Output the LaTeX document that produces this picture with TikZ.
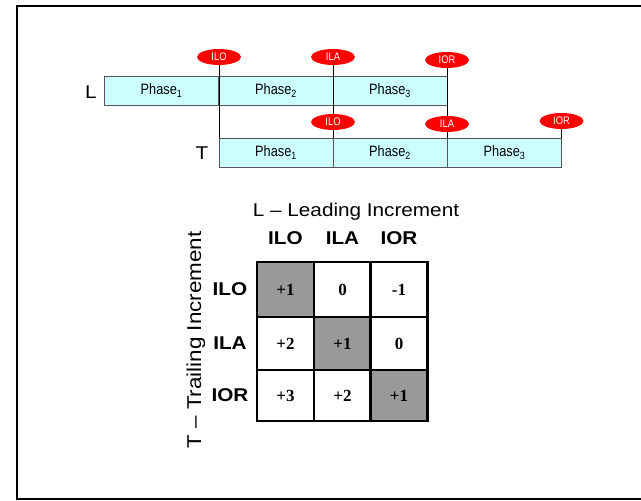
\documentclass[tikz,border=0pt]{standalone}
\usepackage{fontspec}
\setmainfont{Liberation Sans}
\newfontfamily\widefont[FakeStretch=1.12]{Liberation Sans}
\newfontfamily\narrowfont[FakeStretch=0.85]{Liberation Sans}
\newfontfamily\timesfont{Liberation Serif}
\usetikzlibrary{shapes.geometric}
\definecolor{barfill}{HTML}{CCFFFF}
\definecolor{barline}{HTML}{555555}
\definecolor{tag}{HTML}{FF0000}
\definecolor{shade}{HTML}{999999}
\tikzset{
  phasebox/.style={draw=barline, line width=0.9pt, fill=barfill, minimum width=114pt, minimum height=29pt, inner sep=0pt,
    font=\narrowfont\fontsize{15}{15}\selectfont},
  tagnode/.style={ellipse, fill=tag, minimum width=44pt, minimum height=16pt, inner sep=0pt,
    text=white, font=\narrowfont\fontsize{11}{11}\selectfont},
  conn/.style={line width=0.9pt, black},
  cell/.style={draw=black, line width=2.5pt, minimum width=57pt, minimum height=#1, inner sep=0pt,
    font=\timesfont\bfseries\fontsize{17}{17}\selectfont},
  hdr/.style={font=\widefont\bfseries\fontsize{18.5}{18.5}\selectfont},
  lbl/.style={font=\widefont\fontsize{18.5}{19}\selectfont},
}
\begin{document}
\begin{tikzpicture}[x=1pt,y=-1pt]
\useasboundingbox (0,0) rectangle (641,501);
\begin{scope}
\clip (0,0) rectangle (641,501);
\draw[line width=2.5pt] (17,6) rectangle (660,499);
\end{scope}
% L bar
\node[lbl] (Llab) at (91,92) {L};
\node[phasebox] (L1) at (161.5,90.5) {Phase\textsubscript{1}};
\node[phasebox] (L2) at (276,90.5) {Phase\textsubscript{2}};
\node[phasebox] (L3) at (390,90.5) {Phase\textsubscript{3}};
% T bar
\node[lbl] (Tlab) at (202,153) {T};
\node[phasebox] (T1) at (276,152.5) {Phase\textsubscript{1}};
\node[phasebox] (T2) at (390,152.5) {Phase\textsubscript{2}};
\node[phasebox] (T3) at (504.5,152.5) {Phase\textsubscript{3}};
% connectors
\coordinate (T1top) at (219,138);
\coordinate (T2top) at (333,138);
\coordinate (T3top) at (447,138);
\coordinate (T3end) at (561.5,138);
\node[tagnode] (uILO) at (219,57) {ILO};
\node[tagnode] (uILA) at (333,57) {ILA};
\node[tagnode] (uIOR) at (447,60) {IOR};
\node[tagnode] (dILO) at (333,122) {ILO};
\node[tagnode] (dILA) at (447,124) {ILA};
\node[tagnode] (dIOR) at (561.5,121) {IOR};
\draw[conn] (uILO.south) -- (T1top);
\draw[conn] (uILA.south) -- (dILO.north);
\draw[conn] (dILO.south) -- (T2top);
\draw[conn] (uIOR.south) -- (dILA.north);
\draw[conn] (dILA.south) -- (T3top);
\draw[conn] (dIOR.south) -- (T3end);
% matrix
\node[lbl] (title) at (356,212) {L – Leading Increment};
\node[hdr] (c1) at (285.5,238) {ILO};
\node[hdr] (c2) at (342.5,238) {ILA};
\node[hdr] (c3) at (399,238) {IOR};
\node[hdr] (r1) at (230,289.5) {ILO};
\node[hdr] (r2) at (230,343.5) {ILA};
\node[hdr] (r3) at (230,395.5) {IOR};
\node[lbl, font=\widefont\fontsize{20}{20}\selectfont, rotate=90] (vlab) at (196,340) {T – Trailing Increment};
\node[cell=55pt, fill=shade] (m11) at (285.5,289.5) {+1};
\node[cell=55pt] (m12) at (342.5,289.5) {0};
\node[cell=55pt] (m13) at (399,289.5) {-1};
\node[cell=53pt] (m21) at (285.5,343.5) {+2};
\node[cell=53pt, fill=shade] (m22) at (342.5,343.5) {+1};
\node[cell=53pt] (m23) at (399,343.5) {0};
\node[cell=51pt] (m31) at (285.5,395.5) {+3};
\node[cell=51pt] (m32) at (342.5,395.5) {+2};
\node[cell=51pt, fill=shade] (m33) at (399,395.5) {+1};
\end{tikzpicture}
\end{document}
